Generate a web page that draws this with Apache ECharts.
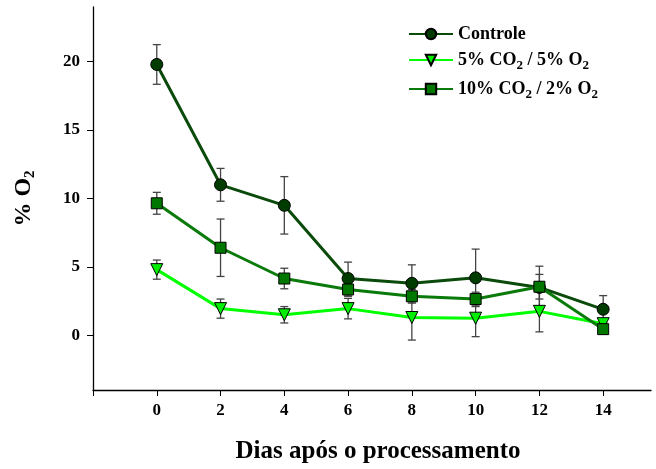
<!DOCTYPE html>
<html>
<head>
<meta charset="utf-8">
<script src="https://cdn.jsdelivr.net/npm/echarts@6/dist/echarts.min.js"></script>
<style>
html, body { margin: 0; padding: 0; background: #fff; }
#chart { width: 656px; height: 469px; }
</style>
</head>
<body>
<div id="chart"></div>
<script>
// dias após o processamento
var days = [0, 2, 4, 6, 8, 10, 12, 14];

var controle = [19.8, 11.0, 9.5, 4.15, 3.8, 4.2, 3.5, 1.9];
var controleErr = [1.45, 1.2, 2.1, 1.2, 1.35, 2.1, 1.55, 1.0];

var co2_5 = [4.8, 1.95, 1.5, 1.95, 1.3, 1.25, 1.75, 0.85];
var co2_5Err = [0.7, 0.7, 0.6, 0.75, 1.65, 1.35, 1.5, 0.3];

var co2_10 = [9.65, 6.4, 4.15, 3.35, 2.85, 2.65, 3.55, 0.45];
var co2_10Err = [0.8, 2.1, 0.75, 0.5, 0.5, 0.5, 0.9, 0.2];

var xTicks = [-2, 0, 2, 4, 6, 8, 10, 12, 14];
var yLabels = [0, 5, 10, 15, 20];

var font = 'Liberation Serif';

function pts(vals) {
	return days.map(function (d, i) { return [d, vals[i]]; });
}
function errs(vals, e) {
	return days.map(function (d, i) { return [d, vals[i] - e[i], vals[i] + e[i]]; });
}

function errorBar(name, data) {
	return {
		type: 'custom',
		name: name + '_err',
		z: 1,
		silent: true,
		data: data,
		renderItem: function (params, api) {
			var x = api.value(0);
			var lo = api.coord([x, api.value(1)]);
			var hi = api.coord([x, api.value(2)]);
			var w = 4;
			var st = { stroke: '#444', lineWidth: 1.3 };
			return {
				type: 'group',
				children: [
					{ type: 'line', shape: { x1: lo[0], y1: lo[1], x2: hi[0], y2: hi[1] }, style: st },
					{ type: 'line', shape: { x1: hi[0] - w, y1: hi[1], x2: hi[0] + w, y2: hi[1] }, style: st },
					{ type: 'line', shape: { x1: lo[0] - w, y1: lo[1], x2: lo[0] + w, y2: lo[1] }, style: st }
				]
			};
		}
	};
}

var sub = { fontSize: 13, fontWeight: 'bold', fontFamily: font, color: '#000', padding: [11, 0, 0, 0] };

var chart = echarts.init(document.getElementById('chart'));
chart.setOption({
	animation: false,
	backgroundColor: '#fff',
	grid: { left: 93, top: 7, width: 558, height: 384 },
	legend: {
		orient: 'vertical',
		left: 403,
		top: 20,
		itemWidth: 44,
		itemHeight: 13,
		itemGap: 8,
		data: ['Controle', '5% CO2 / 5% O2', '10% CO2 / 2% O2'],
		formatter: function (n) {
			return n.replace(/O2/g, 'O{s|2}');
		},
		textStyle: {
			fontFamily: font, fontWeight: 'bold', fontSize: 18, color: '#000',
			rich: { s: sub }
		}
	},
	xAxis: {
		type: 'value',
		min: -2,
		max: 15.5,
		name: 'Dias após o processamento',
		nameLocation: 'middle',
		nameGap: 49,
		nameTextStyle: { fontFamily: font, fontWeight: 'bold', fontSize: 25, color: '#000', padding: [0, 0, 0, 12] },
		splitLine: { show: false },
		axisLine: { onZero: false, lineStyle: { color: '#000', width: 1.3 } },
		axisTick: { show: true, customValues: xTicks, length: 6, lineStyle: { color: '#000' } },
		axisLabel: {
			customValues: days,
			margin: 12,
			fontFamily: font, fontWeight: 'bold', fontSize: 17, color: '#000'
		}
	},
	yAxis: {
		type: 'value',
		min: -4,
		max: 24,
		name: '% O{s|2}',
		nameLocation: 'middle',
		nameGap: 55,
		nameRotate: 90,
		nameTextStyle: {
			fontFamily: font, fontWeight: 'bold', fontSize: 24, color: '#000',
			rich: { s: { fontSize: 15, fontWeight: 'bold', fontFamily: font, color: '#000', padding: [14, 0, 0, 0] } }
		},
		splitLine: { show: false },
		axisLine: { show: true, onZero: false, lineStyle: { color: '#000', width: 1.3 } },
		axisTick: { show: true, customValues: yLabels, length: 6, lineStyle: { color: '#000' } },
		axisLabel: {
			customValues: yLabels,
			margin: 13,
			fontFamily: font, fontWeight: 'bold', fontSize: 17, color: '#000'
		}
	},
	series: [
		errorBar('Controle', errs(controle, controleErr)),
		errorBar('5% CO2 / 5% O2', errs(co2_5, co2_5Err)),
		errorBar('10% CO2 / 2% O2', errs(co2_10, co2_10Err)),
		{
			type: 'line',
			name: 'Controle',
			z: 3,
			data: pts(controle),
			symbol: 'circle',
			symbolSize: 12,
			lineStyle: { color: '#0a4a0a', width: 3 },
			itemStyle: { color: '#003c00', borderColor: '#000', borderWidth: 1 }
		},
		{
			type: 'line',
			name: '5% CO2 / 5% O2',
			z: 4,
			data: pts(co2_5),
			symbol: 'triangle',
			symbolRotate: 180,
			symbolSize: 12,
			lineStyle: { color: '#00ff00', width: 3 },
			itemStyle: { color: '#00ee00', borderColor: '#000', borderWidth: 1 }
		},
		{
			type: 'line',
			name: '10% CO2 / 2% O2',
			z: 5,
			data: pts(co2_10),
			symbol: 'rect',
			symbolSize: 11,
			lineStyle: { color: '#0a7a0a', width: 3 },
			itemStyle: { color: '#007800', borderColor: '#000', borderWidth: 1 }
		}
	]
});
</script>
</body>
</html>
